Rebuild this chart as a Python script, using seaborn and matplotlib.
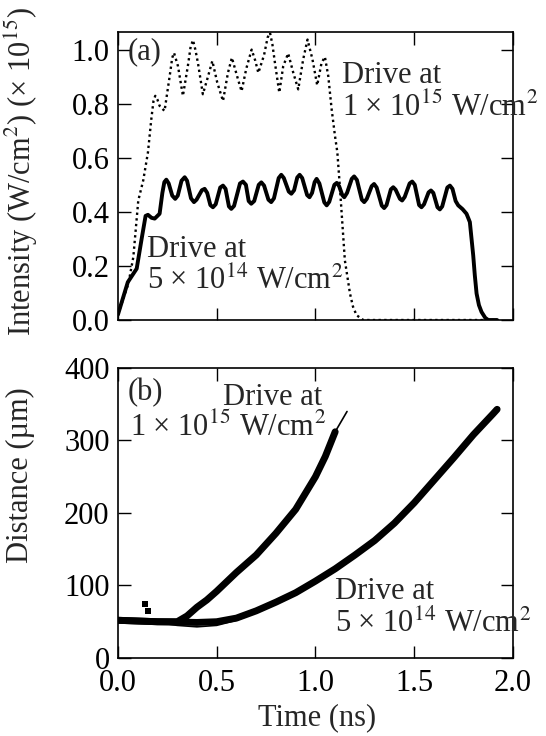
import matplotlib
matplotlib.use('Agg')
import matplotlib.pyplot as plt
import seaborn as sns
import pandas as pd

# (a) laser pulse shapes, intensity in units of 1e15 W/cm2
pulse_t_hi = [0.0, 0.053, 0.078, 0.103, 0.128, 0.152, 0.169, 0.18, 0.189, 0.2, 0.211, 0.236,
              0.262, 0.275, 0.284, 0.304, 0.329, 0.354, 0.368, 0.38, 0.392, 0.405, 0.43, 0.452,
              0.478, 0.503, 0.532, 0.557, 0.577, 0.608, 0.626, 0.65, 0.677, 0.695, 0.711, 0.74,
              0.758, 0.77, 0.782, 0.795, 0.817, 0.837, 0.862, 0.888, 0.913, 0.938, 0.96, 0.985,
              1.009, 1.031, 1.048, 1.065, 1.082, 1.099, 1.111, 1.124, 1.149, 1.175, 1.19, 1.208,
              1.242, 1.92]
pulse_i_hi = [0.02, 0.135, 0.233, 0.442, 0.516, 0.62, 0.743, 0.81, 0.829, 0.815, 0.792, 0.773,
              0.902, 0.97, 0.988, 0.939, 0.829, 0.939, 1.01, 1.035, 1.0, 0.951, 0.835, 0.89,
              0.958, 0.878, 0.81, 0.914, 0.97, 0.89, 0.846, 0.93, 1.0, 0.96, 0.914, 0.98,
              1.045, 1.062, 1.02, 0.951, 0.841, 0.939, 0.986, 0.914, 0.853, 0.964, 1.037, 0.964,
              0.868, 0.951, 0.973, 0.902, 0.78, 0.681, 0.62, 0.49, 0.221, 0.098, 0.05, 0.018,
              0.0, 0.0]

pulse_t_lo = [0.0, 0.05, 0.095, 0.12, 0.14, 0.152, 0.17, 0.186, 0.2, 0.211, 0.225, 0.235,
              0.245, 0.257, 0.275, 0.29, 0.303, 0.322, 0.338, 0.35, 0.37, 0.385, 0.398, 0.425,
              0.439, 0.452, 0.468, 0.481, 0.495, 0.518, 0.532, 0.545, 0.562, 0.574, 0.588, 0.618,
              0.633, 0.648, 0.662, 0.675, 0.69, 0.713, 0.726, 0.74, 0.762, 0.776, 0.79, 0.814,
              0.827, 0.84, 0.865, 0.878, 0.892, 0.908, 0.92, 0.933, 0.958, 0.97, 0.983, 0.996,
              1.006, 1.02, 1.045, 1.057, 1.07, 1.096, 1.108, 1.12, 1.136, 1.146, 1.16, 1.184,
              1.196, 1.21, 1.235, 1.247, 1.26, 1.285, 1.297, 1.31, 1.336, 1.348, 1.36, 1.382,
              1.394, 1.406, 1.428, 1.439, 1.452, 1.477, 1.49, 1.503, 1.525, 1.537, 1.55, 1.573,
              1.585, 1.597, 1.618, 1.63, 1.642, 1.668, 1.681, 1.694, 1.71, 1.723, 1.745, 1.765,
              1.775, 1.782, 1.799, 1.807, 1.816, 1.828, 1.841, 1.86, 1.875, 1.92]
pulse_i_lo = [0.02, 0.14, 0.19, 0.30, 0.385, 0.389, 0.378, 0.375, 0.385, 0.393, 0.47, 0.51,
              0.519, 0.505, 0.46, 0.448, 0.46, 0.515, 0.528, 0.515, 0.45, 0.436, 0.445, 0.48,
              0.485, 0.47, 0.425, 0.417, 0.428, 0.49, 0.497, 0.485, 0.42, 0.411, 0.422, 0.505,
              0.512, 0.5, 0.44, 0.43, 0.44, 0.5, 0.509, 0.497, 0.445, 0.436, 0.45, 0.525,
              0.537, 0.525, 0.475, 0.467, 0.48, 0.527, 0.537, 0.525, 0.462, 0.454, 0.47, 0.51,
              0.522, 0.505, 0.435, 0.424, 0.437, 0.5, 0.507, 0.495, 0.462, 0.454, 0.47, 0.522,
              0.531, 0.518, 0.445, 0.436, 0.448, 0.495, 0.503, 0.49, 0.423, 0.414, 0.425, 0.483,
              0.491, 0.482, 0.448, 0.442, 0.455, 0.505, 0.512, 0.5, 0.425, 0.417, 0.428, 0.472,
              0.479, 0.47, 0.417, 0.409, 0.42, 0.49, 0.497, 0.485, 0.44, 0.424, 0.41, 0.393,
              0.375, 0.362, 0.239, 0.166, 0.098, 0.055, 0.03, 0.008, 0.0, 0.0]

# (b) measured trajectories (thick) and simulations (thin), distance in um
meas_t_hi = [0.0, 0.1, 0.2, 0.3, 0.35, 0.4, 0.45, 0.5, 0.6, 0.7, 0.8, 0.9, 1.0, 1.05, 1.1]
meas_d_hi = [52, 51, 50, 50, 58, 70, 80, 92, 118, 142, 172, 205, 250, 278, 312]
sim_t_hi = [0.0, 0.2, 0.3, 0.4, 0.5, 0.6, 0.7, 0.8, 0.9, 1.0, 1.05, 1.1, 1.16]
sim_d_hi = [52, 50, 51, 68, 92, 118, 142, 172, 205, 250, 278, 312, 340]

meas_t_lo = [0.0, 0.2, 0.4, 0.5, 0.6, 0.7, 0.8, 0.9, 1.0, 1.1, 1.2, 1.3, 1.4, 1.5, 1.6,
             1.7, 1.8, 1.9, 1.92]
meas_d_lo = [52, 50, 49, 50, 55, 65, 77, 90, 106, 123, 142, 162, 186, 214, 245,
             276, 308, 337, 343]
sim_t_lo = [0.0, 0.2, 0.3, 0.4, 0.5, 0.6, 0.7, 0.8, 1.0, 1.2, 1.4, 1.6, 1.8, 1.93]
sim_d_lo = [52, 49, 45, 43, 45, 52, 63, 76, 105, 141, 185, 244, 307, 345]

stray_t = [0.137, 0.154]
stray_d = [75, 65]

sns.set_theme(style='ticks')
plt.rcParams['font.family'] = ['Liberation Serif', 'DejaVu Serif']
plt.rcParams['mathtext.fontset'] = 'stix'

FS = 22

fig = plt.figure(figsize=(5.46, 7.36), dpi=100)
ax1 = fig.add_axes([0.216, 0.5652, 0.7234, 0.3913])
ax2 = fig.add_axes([0.216, 0.106, 0.7234, 0.394])

df_hi = pd.DataFrame({'t': pulse_t_hi, 'i': pulse_i_hi})
df_lo = pd.DataFrame({'t': pulse_t_lo, 'i': pulse_i_lo})
sns.lineplot(data=df_hi, x='t', y='i', ax=ax1, color='black', lw=1.7,
             linestyle=(0, (1, 1.4)), estimator=None, sort=False)
sns.lineplot(data=df_lo, x='t', y='i', ax=ax1, color='black', lw=2.8,
             estimator=None, sort=False, solid_joinstyle='round')

sns.lineplot(x=sim_t_hi, y=sim_d_hi, ax=ax2, color='black', lw=1.2, estimator=None, sort=False)
sns.lineplot(x=sim_t_lo, y=sim_d_lo, ax=ax2, color='black', lw=1.2, estimator=None, sort=False)
sns.lineplot(x=meas_t_hi, y=meas_d_hi, ax=ax2, color='black', lw=5, estimator=None, sort=False)
sns.lineplot(x=meas_t_lo, y=meas_d_lo, ax=ax2, color='black', lw=5, estimator=None, sort=False)
sns.scatterplot(x=stray_t, y=stray_d, ax=ax2, color='black', marker='s', s=14, linewidth=0)

for ax in (ax1, ax2):
    ax.set_xlim(0, 2.0)
    ax.set_xticks([0.0, 0.5, 1.0, 1.5, 2.0])
    ax.tick_params(direction='in', top=True, right=True, length=9, width=1,
                   labelsize=FS, color='black', labelcolor='black')
    ax.tick_params(axis='y', pad=6)
    ax.tick_params(axis='x', pad=8)
    for s in ax.spines.values():
        s.set_linewidth(1.2)
        s.set_color('black')
    ax.set_facecolor('white')

ax1.set_ylim(0, 1.065)
ax1.set_yticks([0.0, 0.2, 0.4, 0.6, 0.8, 1.0])
ax1.set_yticklabels(['0.0', '0.2', '0.4', '0.6', '0.8', '1.0'])
ax1.set_xticklabels([])
ax1.set_xlabel('')
ax1.set_ylabel(r'Intensity (W/cm$^2$) (× 10$^{15}$)', fontsize=FS)
ax1.yaxis.set_label_coords(-0.197, 0.514)

ax2.set_ylim(0, 400)
ax2.set_yticks([0, 100, 200, 300, 400])
ax2.set_xticklabels(['0.0', '0.5', '1.0', '1.5', '2.0'])
ax2.set_xlabel('Time (ns)', fontsize=FS)
ax2.xaxis.set_label_coords(0.504, -0.155)
ax2.set_ylabel('Distance (µm)', fontsize=FS)
ax2.yaxis.set_label_coords(-0.21, 0.631)

ax1.text(0.05, 1.045, '(a)', fontsize=FS, va='top')
ax1.text(1.134, 0.877, 'Drive at', fontsize=FS, clip_on=False)
ax1.text(1.134, 0.755, r'1 × 10$^{15}$ W/cm$^2$', fontsize=FS, clip_on=False)
ax1.text(0.145, 0.233, 'Drive at', fontsize=FS)
ax1.text(0.145, 0.117, r'5 × 10$^{14}$ W/cm$^2$', fontsize=FS)

ax2.text(0.05, 355, '(b)', fontsize=FS)
ax2.text(0.532, 349, 'Drive at', fontsize=FS)
ax2.text(0.061, 307, r'1 × 10$^{15}$ W/cm$^2$', fontsize=FS)
ax2.text(1.099, 82, 'Drive at', fontsize=FS, clip_on=False)
ax2.text(1.099, 36, r'5 × 10$^{14}$ W/cm$^2$', fontsize=FS, clip_on=False)

fig.savefig('out.png', dpi=100, facecolor='white')
